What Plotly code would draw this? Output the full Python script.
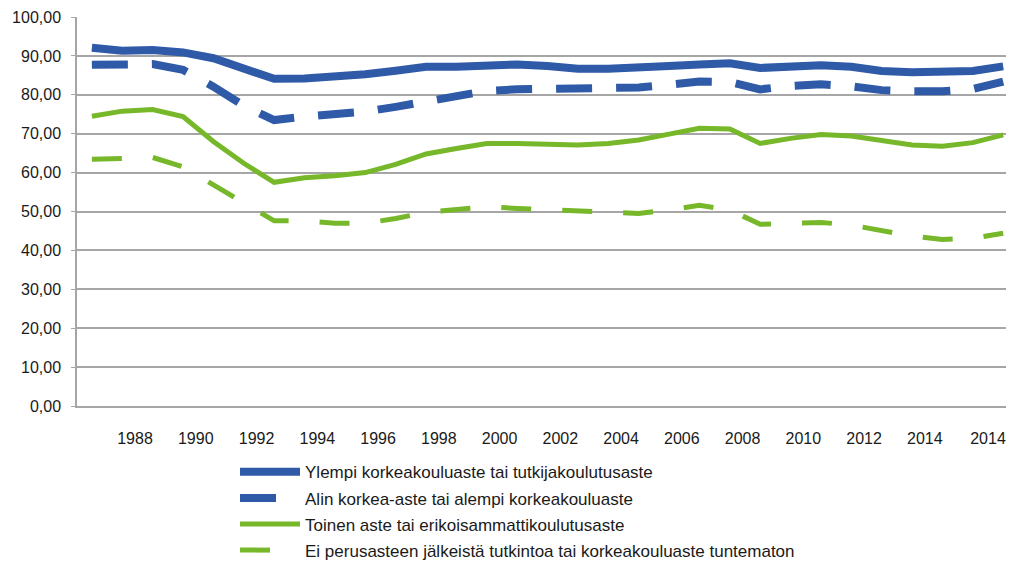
import plotly.graph_objects as go

# Category positions (index of each observation)
POINT_INDEX = list(range(31))

TICK_LABELS = ["1988", "1990", "1992", "1994", "1996", "1998", "2000", "2002",
               "2004", "2006", "2008", "2010", "2012", "2014", "2014"]

SERIES_NAMES = [
    "Ylempi korkeakouluaste tai tutkijakoulutusaste",
    "Alin korkea-aste tai alempi korkeakouluaste",
    "Toinen aste tai erikoisammattikoulutusaste",
    "Ei perusasteen jälkeistä tutkintoa tai korkeakouluaste tuntematon",
]

ylempi = [92.1, 91.3, 91.5, 90.9, 89.4, 86.8, 84.1, 84.2, 84.5, 85.3, 86.2, 87.2,
          87.2, 87.7, 87.8, 87.4, 86.7, 86.7, 86.8, 87.4, 87.8, 88.1, 86.9, 87.2,
          87.6, 87.2, 86.1, 85.8, 85.8, 86.1, 87.3]
alin = [87.7, 87.7, 87.9, 86.4, 82.1, 77.2, 73.5, 74.4, 74.8, 75.7, 76.9, 78.3,
        79.8, 81.0, 81.4, 81.5, 81.5, 81.6, 81.9, 82.6, 83.4, 83.3, 81.4, 82.3,
        82.7, 82.2, 81.2, 80.9, 80.9, 81.5, 83.4]
toinen = [74.5, 75.8, 76.2, 74.4, 68.0, 62.4, 57.5, 58.7, 59.2, 60.0, 62.1, 64.8,
          66.2, 67.5, 67.5, 67.3, 67.1, 67.5, 68.4, 69.9, 71.4, 71.2, 67.5, 68.8,
          69.8, 69.4, 68.1, 67.1, 66.8, 67.7, 69.7]
ei = [63.4, 63.7, 63.9, 61.5, 56.8, 52.1, 47.6, 47.6, 47.0, 47.0, 48.2, 49.8,
      50.6, 51.2, 50.8, 50.4, 50.1, 49.9, 49.5, 50.4, 51.6, 50.4, 46.7, 46.9,
      47.2, 46.5, 45.2, 43.7, 42.8, 43.1, 44.4]

Y_TICKS = [0, 10, 20, 30, 40, 50, 60, 70, 80, 90, 100]

BLUE = "#2F5AA8"
GREEN = "#76B82A"
FONT = "Liberation Sans, Arial, sans-serif"

fig = go.Figure()
styles = [
    (ylempi, BLUE, 8, "solid"),
    (alin, BLUE, 8, "36px,24px"),
    (toinen, GREEN, 5, "solid"),
    (ei, GREEN, 5, "30px,31px"),
]
for k, (name, (vals, color, w, dash)) in enumerate(zip(SERIES_NAMES, styles)):
    fig.add_trace(go.Scatter(
        x=POINT_INDEX, y=vals, mode="lines", name=name, legendgroup=f"g{k}",
        line=dict(color=color, width=w, dash=dash),
    ))

tickvals = [i + 0.42 for i in range(1, 28, 2)] + [29.5]

# The page body has an 8px default margin; the figure is sized to fill the rest.
fig.update_layout(
    width=1006, height=555,
    margin=dict(l=69, r=2, t=9, b=157, autoexpand=False),
    paper_bgcolor="white", plot_bgcolor="white",
    font=dict(family=FONT, size=16, color="#1a1a1a"),
    showlegend=True,
    legend=dict(
        x=0.169, y=-0.124, xanchor="left", yanchor="top",
        font=dict(family=FONT, size=17, color="#1a1a1a"),
        bgcolor="rgba(0,0,0,0)", tracegroupgap=1, itemwidth=60,
    ),
    xaxis=dict(
        range=[-0.49, 30.29], tickmode="array", tickvals=tickvals, ticktext=TICK_LABELS,
        showgrid=False, zeroline=False, showline=True, linecolor="#A6A6A6", linewidth=2,
        ticks="", ticklabelstandoff=17, ticklabeloverflow="allow",
        tickfont=dict(family=FONT, size=16, color="#1a1a1a"),
    ),
    yaxis=dict(
        range=[0, 100], tickmode="array", tickvals=Y_TICKS,
        ticktext=[f"{v:.2f}".replace(".", ",") for v in Y_TICKS],
        showgrid=True, gridcolor="#A6A6A6", gridwidth=1.5,
        zeroline=False, showline=True, linecolor="#A6A6A6", linewidth=1.5,
        ticks="outside", ticklen=4, tickcolor="#A6A6A6", ticklabelstandoff=7,
        tickfont=dict(family=FONT, size=16, color="#1a1a1a"),
    ),
)

fig.write_html("out.html")
